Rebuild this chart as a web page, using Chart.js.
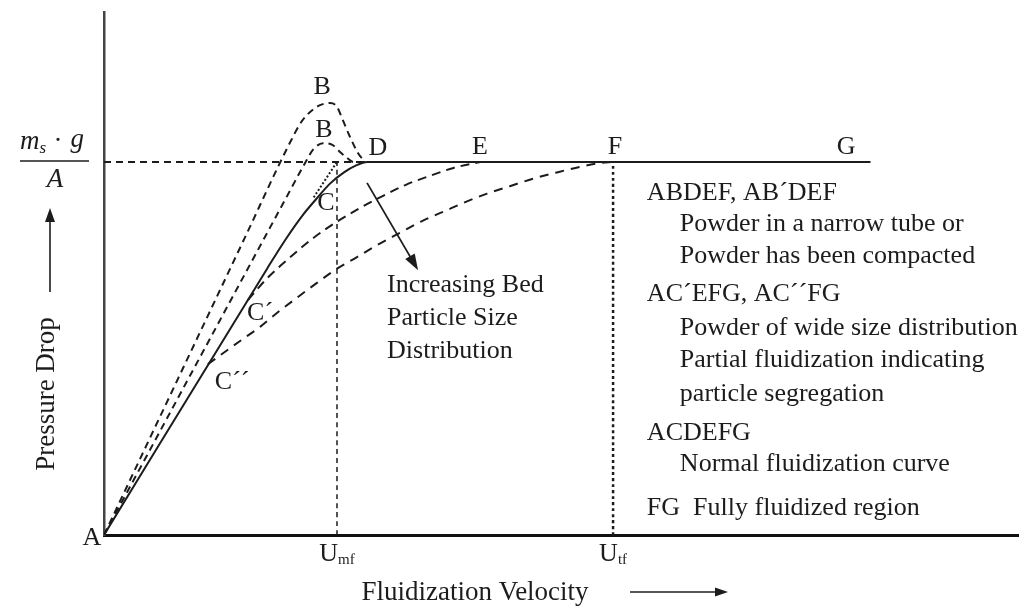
<!DOCTYPE html>
<html>
<head>
<meta charset="utf-8">
<script src="https://cdn.jsdelivr.net/npm/chart.js@4.4.1/dist/chart.umd.min.js"></script>
<style>
  body { margin: 0; background: #ffffff; }
  #grafico { display: block; }
</style>
</head>
<body>
<canvas id="grafico" width="1030" height="607"></canvas>
<script>
// velocity is U / Umf, pressure drop is dP / (ms*g/A)
var VEL_MAX = 3.923;
var DP_MAX = 1.402;

var velMinFluid = 1.0;
var velTerminal = 2.185;

// ACDEFG - normal fluidization curve
var velNormal = [0, 0.7, 0.78, 0.85, 0.91, 0.97, 1.03, 1.08, 1.13, 3.29];
var dpNormal = [0, 0.714, 0.793, 0.855, 0.9, 0.942, 0.972, 0.99, 1.0, 1.0];

// ABDEF - compacted powder (outer peak)
var velPeakB = [0, 0.6, 0.8, 0.85, 0.9, 0.93, 0.97, 1.0, 1.02, 1.056, 1.09, 1.12];
var dpPeakB = [0, 0.791, 1.054, 1.11, 1.142, 1.153, 1.158, 1.148, 1.12, 1.067, 1.024, 1.0];

// AB'DEF - narrow tube (inner peak)
var velPeakB2 = [0, 0.6, 0.8, 0.86, 0.9, 0.94, 0.98, 1.013, 1.045, 1.07, 1.12];
var dpPeakB2 = [0, 0.694, 0.925, 0.994, 1.035, 1.05, 1.046, 1.027, 1.01, 1.0, 1.0];

// AC'EFG - wide size distribution
var velWide1 = [0.618, 0.7, 0.8, 0.9, 1.0, 1.1, 1.2, 1.3, 1.4, 1.5, 1.614];
var dpWide1 = [0.63, 0.688, 0.745, 0.797, 0.84, 0.877, 0.91, 0.94, 0.963, 0.984, 1.0];

// AC''FG - partial fluidization
var velWide2 = [0.446, 0.584, 0.67, 0.742, 0.828, 0.914, 1.0, 1.086, 1.172, 1.27, 1.369, 1.455, 1.541, 1.644, 1.742, 1.841, 1.944, 2.043, 2.129, 2.185];
var dpWide2 = [0.458, 0.52, 0.558, 0.595, 0.636, 0.676, 0.714, 0.745, 0.777, 0.81, 0.843, 0.866, 0.89, 0.915, 0.935, 0.955, 0.972, 0.987, 0.997, 1.0];

// extension of the linear part up to the bed weight
var velExtension = [0.9, 1.0];
var dpExtension = [0.905, 1.0];

// point labels
var pointNames = ["B", "B", "D", "E", "F", "G", "C", "C´", "C´´"];
var pointVel = [0.936, 0.944, 1.176, 1.614, 2.193, 3.185, 0.953, 0.67, 0.55];
var pointDp = [1.201, 1.086, 1.038, 1.040, 1.040, 1.040, 0.89, 0.595, 0.41];

// notes on the right
var notes = [
  "ABDEF, AB´DEF",
  "Powder in a narrow tube or",
  "Powder has been compacted",
  "AC´EFG, AC´´FG",
  "Powder of wide size distribution",
  "Partial fluidization indicating",
  "particle segregation",
  "ACDEFG",
  "Normal fluidization curve",
  "FG  Fully fluidized region"
];
var notesIndent = [0, 1, 1, 0, 1, 1, 1, 0, 1, 0];
var notesDp = [0.917, 0.833, 0.748, 0.646, 0.555, 0.469, 0.378, 0.273, 0.19, 0.072];

var arrowNote = ["Increasing Bed", "Particle Size", "Distribution"];
var arrowNoteDp = [0.67, 0.582, 0.493];
var arrowVel = [1.129, 1.348];
var arrowDp = [0.944, 0.71];

var COR = "#1c1c1c";
var FONTE = "26px 'Liberation Serif', 'Times New Roman', serif";
var FONTE_EIXO = "27px 'Liberation Serif', 'Times New Roman', serif";

// ---------- HELPERS ----------

function montarPontos(xs, ys) {
  var pontos = [];
  for (var i = 0; i < xs.length; i++) {
    pontos.push({ x: xs[i], y: ys[i] });
  }
  return pontos;
}

function serie(xs, ys, dash, largura) {
  return {
    data: montarPontos(xs, ys),
    showLine: true,
    borderColor: COR,
    borderWidth: largura,
    borderDash: dash,
    pointRadius: 0,
    cubicInterpolationMode: "monotone",
    fill: false
  };
}

function desenharSeta(ctx, x1, y1, x2, y2, comp, larg) {
  var ang = Math.atan2(y2 - y1, x2 - x1);
  ctx.beginPath();
  ctx.moveTo(x1, y1);
  ctx.lineTo(x2 - Math.cos(ang) * comp * 0.8, y2 - Math.sin(ang) * comp * 0.8);
  ctx.stroke();
  ctx.beginPath();
  ctx.moveTo(x2, y2);
  ctx.lineTo(x2 - Math.cos(ang) * comp + Math.sin(ang) * larg / 2,
             y2 - Math.sin(ang) * comp - Math.cos(ang) * larg / 2);
  ctx.lineTo(x2 - Math.cos(ang) * comp - Math.sin(ang) * larg / 2,
             y2 - Math.sin(ang) * comp + Math.cos(ang) * larg / 2);
  ctx.closePath();
  ctx.fill();
}

function rotuloSubscrito(ctx, base, sub, cx, cy) {
  ctx.font = FONTE;
  var wb = ctx.measureText(base).width;
  ctx.font = "15px 'Liberation Serif', serif";
  var ws = ctx.measureText(sub).width;
  var x0 = cx - (wb + ws) / 2;
  ctx.textAlign = "left";
  ctx.font = FONTE;
  ctx.fillText(base, x0, cy);
  ctx.font = "15px 'Liberation Serif', serif";
  ctx.fillText(sub, x0 + wb, cy + 6);
}

// ---------- TEXTOS ----------

var pluginTextos = {
  id: "textos",
  afterDraw: function (chart) {
    var ctx = chart.ctx;
    var sx = chart.scales.x;
    var sy = chart.scales.y;
    var area = chart.chartArea;

    ctx.save();
    ctx.fillStyle = COR;
    ctx.strokeStyle = COR;
    ctx.textBaseline = "middle";
    ctx.font = FONTE;

    // point letters
    ctx.textAlign = "center";
    for (var i = 0; i < pointNames.length; i++) {
      ctx.fillText(pointNames[i], sx.getPixelForValue(pointVel[i]), sy.getPixelForValue(pointDp[i]));
    }
    ctx.fillText("A", area.left - 12, area.bottom + 3);

    // notes
    ctx.textAlign = "left";
    for (var j = 0; j < notes.length; j++) {
      var xn = sx.getPixelForValue(2.33) + notesIndent[j] * 33;
      ctx.fillText(notes[j], xn, sy.getPixelForValue(notesDp[j]));
    }

    for (var k = 0; k < arrowNote.length; k++) {
      ctx.fillText(arrowNote[k], sx.getPixelForValue(1.215), sy.getPixelForValue(arrowNoteDp[k]));
    }

    // arrow for increasing distribution
    ctx.lineWidth = 1.8;
    desenharSeta(ctx,
      sx.getPixelForValue(arrowVel[0]), sy.getPixelForValue(arrowDp[0]),
      sx.getPixelForValue(arrowVel[1]), sy.getPixelForValue(arrowDp[1]), 16, 11);

    // tick labels Umf and Utf
    rotuloSubscrito(ctx, "U", "mf", sx.getPixelForValue(velMinFluid), area.bottom + 19);
    rotuloSubscrito(ctx, "U", "tf", sx.getPixelForValue(velTerminal), area.bottom + 19);

    // ms*g/A on the level
    var yNivel = sy.getPixelForValue(1);
    ctx.textAlign = "left";
    ctx.font = "italic 27px 'Liberation Serif', serif";
    var xm = 20;
    ctx.fillText("m", xm, yNivel - 20);
    var wm = ctx.measureText("m").width;
    ctx.font = "italic 17px 'Liberation Serif', serif";
    ctx.fillText("s", xm + wm, yNivel - 13);
    ctx.font = "27px 'Liberation Serif', serif";
    ctx.fillText("·", xm + wm + 14, yNivel - 20);
    ctx.font = "italic 27px 'Liberation Serif', serif";
    ctx.fillText("g", xm + wm + 31, yNivel - 22);
    ctx.textAlign = "center";
    ctx.fillText("A", 55, yNivel + 18);
    ctx.lineWidth = 1.6;
    ctx.beginPath();
    ctx.moveTo(20, yNivel - 1);
    ctx.lineTo(89, yNivel - 1);
    ctx.stroke();

    // axis titles
    ctx.font = FONTE_EIXO;
    ctx.save();
    ctx.translate(47, 394);
    ctx.rotate(-Math.PI / 2);
    ctx.textAlign = "center";
    ctx.fillText("Pressure Drop", 0, 0);
    ctx.restore();
    ctx.lineWidth = 1.6;
    desenharSeta(ctx, 50, 292, 50, 208, 14, 10);

    ctx.textAlign = "center";
    ctx.fillText("Fluidization Velocity", 475, 593);
    desenharSeta(ctx, 630, 592, 728, 592, 13, 9);

    ctx.restore();
  }
};

// ---------- GRAFICO ----------

function desenharGrafico() {
  var ctx = document.getElementById("grafico").getContext("2d");

  var datasets = [
    serie(velNormal, dpNormal, [], 2),
    serie(velPeakB, dpPeakB, [7, 5], 2),
    serie(velPeakB2, dpPeakB2, [7, 5], 2),
    serie(velWide1, dpWide1, [9, 6], 2),
    serie(velWide2, dpWide2, [9, 7], 2),
    serie(velExtension, dpExtension, [2, 2], 2),
    serie([0, 1.12], [1, 1], [7, 5], 2),
    serie([velMinFluid, velMinFluid], [0, 1], [5, 4], 1.5),
    serie([velTerminal, velTerminal], [0, 1], [3, 3], 2.5)
  ];

  new Chart(ctx, {
    type: "scatter",
    data: { datasets: datasets },
    options: {
      responsive: false,
      animation: false,
      layout: { padding: { left: 104, top: 12, right: 12, bottom: 72 } },
      plugins: {
        legend: { display: false },
        tooltip: { enabled: false }
      },
      scales: {
        x: {
          type: "linear",
          min: 0,
          max: VEL_MAX,
          grid: { display: false, drawTicks: false },
          ticks: { display: false },
          border: { display: true, color: "#111111", width: 3 }
        },
        y: {
          type: "linear",
          min: 0,
          max: DP_MAX,
          grid: { display: false, drawTicks: false },
          ticks: { display: false },
          border: { display: true, color: "#444444", width: 2.5 }
        }
      }
    },
    plugins: [pluginTextos]
  });
}

window.onload = function () {
  desenharGrafico();
};
</script>
</body>
</html>
